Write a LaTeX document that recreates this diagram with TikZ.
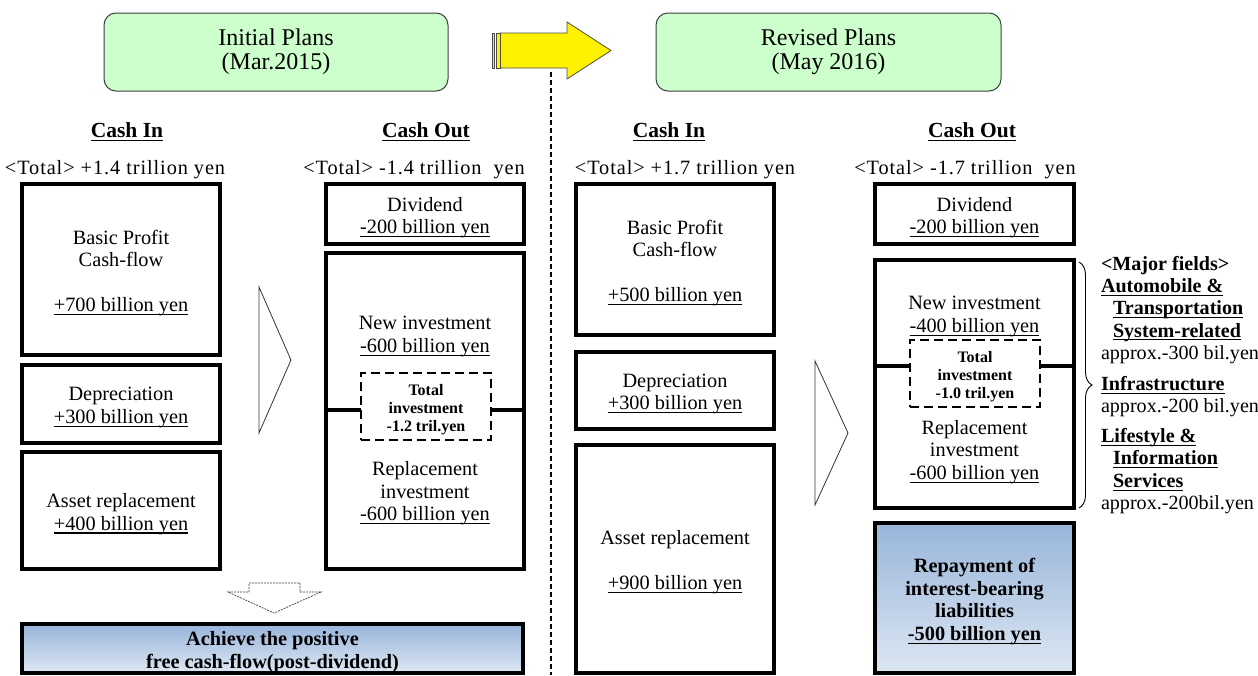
\documentclass[tikz,border=0pt]{standalone}
\usepackage{fontspec}
\setmainfont{Liberation Serif}
\usetikzlibrary{decorations.pathreplacing}
\definecolor{titlegreen}{HTML}{CCFFCC}
\definecolor{blueTop}{HTML}{98B5DA}
\definecolor{blueBot}{HTML}{DDE7F3}
\newcommand{\mfs}{\fontsize{20.3}{22.5}\selectfont}
\newcommand{\hfs}{\fontsize{21.5}{22.5}\selectfont}
\newcommand{\sfs}{\fontsize{16}{18}\selectfont}
\newcommand{\tfs}{\fontsize{24}{24}\selectfont}
\newcommand{\ffs}{\fontsize{20.1}{22.3}\selectfont}
\newcommand{\myul}[1]{\setbox0\hbox{#1}\leavevmode\rlap{\rule[-3.4pt]{\wd0}{1.1pt}}\box0}
\begin{document}
\begin{tikzpicture}[x=1pt,y=-1pt,
  every node/.style={inner sep=0pt, outer sep=0pt},
  box/.style={draw=black, line width=3.2pt, anchor=north west, fill=white},
  dbox/.style={draw=black, line width=2.3pt, dash pattern=on 9pt off 5pt, anchor=north west, fill=white},
  gbox/.style={draw=black, line width=3.2pt, anchor=north west, top color=blueTop, bottom color=blueBot},
  titlebox/.style={draw=black!75, line width=1pt, fill=titlegreen, rounded corners=12pt, anchor=north west, align=center, font=\tfs},
  head/.style={font=\hfs\bfseries, yshift=-2pt},
  txt/.style={font=\mfs, align=center, yshift=-3.5pt},
  btxt/.style={font=\mfs\bfseries, align=center, yshift=-3.5pt},
  stxt/.style={font=\sfs\bfseries, align=center, yshift=-3pt},
  tottxt/.style={font=\mfs\addfontfeature{LetterSpace=4.5}, yshift=-3pt},
  chev/.style={draw=black!80, line width=0.8pt, line join=miter},
  link/.style={draw=black, line width=3.2pt},
]
\fill[white] (0,0) rectangle (1258,675);
\useasboundingbox (0,0) rectangle (1258,675);

% titles
\node[titlebox, minimum width=344pt, minimum height=78pt] (init) at (104,13) {Initial Plans\\(Mar.2015)};
\node[titlebox, minimum width=345pt, minimum height=78pt] (rev) at (656,13) {Revised Plans\\(May 2016)};

% yellow arrow
\draw[draw=black!70, line width=0.8pt, fill=yellow, line join=miter] (500,33) -- (567,33) -- (567,22) -- (611,50.5) -- (567,79) -- (567,68) -- (500,68) -- cycle;
\draw[draw=black!70, line width=0.8pt, fill=yellow] (492,33) rectangle (494.5,68);
\draw[draw=black!70, line width=0.8pt, fill=yellow] (496,33) rectangle (500,68);

% divider
\coordinate (dtop) at (551,72);
\coordinate (dbot) at (551,675);
\draw[line width=1.1pt, dash pattern=on 5pt off 3pt] (dtop) -- (dbot);

% headers
\node[head] (ci1) at (127,130) {\myul{Cash In}};
\node[head] (co1) at (426,130) {\myul{Cash Out}};
\node[head] (ci2) at (669,130) {\myul{Cash In}};
\node[head] (co2) at (972,130) {\myul{Cash Out}};
\node[tottxt] (t1) at (115,167) {<Total> +1.4 trillion yen};
\node[tottxt] (t2) at (414,167) {<Total> -1.4 trillion\ \ yen};
\node[tottxt] (t3) at (685,167) {<Total> +1.7 trillion yen};
\node[tottxt] (t4) at (965,167) {<Total> -1.7 trillion\ \ yen};

% left cash in
\node[box, minimum width=198pt, minimum height=171pt] (bp1) at (22,184) {};
\node[txt] (bp1t) at (bp1.center) {Basic Profit\\Cash-flow\\[22.5pt]\myul{+700 billion yen}};
\node[box, minimum width=198pt, minimum height=78pt] (dep1) at (22,365) {};
\node[txt] (dep1t) at (dep1.center) {Depreciation\\\myul{+300 billion yen}};
\node[box, minimum width=198pt, minimum height=117pt] (ast1) at (22,452) {};
\node[txt] (ast1t) at (ast1.center) {Asset replacement\\\myul{+400 billion yen}};

% left cash out
\node[box, minimum width=198pt, minimum height=60pt] (div1) at (326,184) {};
\node[txt] (div1t) at (div1.center) {Dividend\\\myul{-200 billion yen}};
\node[box, minimum width=198pt, minimum height=316pt] (inv1) at (326,253) {};
\node[txt] (ni1) at (425,333) {New investment\\\myul{-600 billion yen}};
\node[txt] (ri1) at (425,490) {Replacement\\investment\\\myul{-600 billion yen}};
\node[dbox, minimum width=130pt, minimum height=67pt] (tot1) at (361,373) {};
\node[stxt] (tot1t) at (tot1.center) {Total\\investment\\-1.2 tril.yen};
\draw[link] (inv1.west |- 0,410) -- (tot1.west |- 0,410);
\draw[link] (tot1.east |- 0,410) -- (inv1.east |- 0,410);

% chevrons
\draw[chev] (259,287) -- (291,360) -- (259,433) -- cycle;
\draw[chev] (815,361) -- (848,433) -- (815,505) -- cycle;

% down arrow
\draw[draw=black!75, line width=0.7pt, dash pattern=on 2pt off 1pt, fill=white, line join=miter] (249,583) -- (300,583) -- (300,592) -- (321,592) -- (274,613) -- (228,592) -- (249,592) -- cycle;

% achieve
\node[gbox, minimum width=501pt, minimum height=49pt] (ach) at (22,624) {};
\node[btxt] (acht) at (ach.center) {Achieve the positive\\free cash-flow(post-dividend)};

% right cash in
\node[box, minimum width=198pt, minimum height=151pt] (bp2) at (576,184) {};
\node[txt] (bp2t) at (bp2.center) {Basic Profit\\Cash-flow\\[22.5pt]\myul{+500 billion yen}};
\node[box, minimum width=198pt, minimum height=77pt] (dep2) at (576,352) {};
\node[txt] (dep2t) at (dep2.center) {Depreciation\\\myul{+300 billion yen}};
\node[box, minimum width=198pt, minimum height=228pt] (ast2) at (576,445) {};
\node[txt] (ast2t) at (ast2.center) {Asset replacement\\[22.5pt]\myul{+900 billion yen}};

% right cash out
\node[box, minimum width=199pt, minimum height=60pt] (div2) at (875,184) {};
\node[txt] (div2t) at (div2.center) {Dividend\\\myul{-200 billion yen}};
\node[box, minimum width=199pt, minimum height=248pt] (inv2) at (875,260) {};
\node[txt] (ni2) at (974.5,313) {New investment\\\myul{-400 billion yen}};
\node[txt] (ri2) at (974.5,448.5) {Replacement\\investment\\\myul{-600 billion yen}};
\node[dbox, minimum width=130pt, minimum height=67pt] (tot2) at (910,340) {};
\node[stxt] (tot2t) at (tot2.center) {Total\\investment\\-1.0 tril.yen};
\draw[link] (inv2.west |- 0,366) -- (tot2.west |- 0,366);
\draw[link] (tot2.east |- 0,366) -- (inv2.east |- 0,366);

\node[gbox, minimum width=199pt, minimum height=150pt] (rep) at (875,523) {};
\node[btxt] (rept) at (rep.center) {Repayment of\\interest-bearing\\liabilities\\\myul{-500 billion yen}};

% brace
\coordinate (bra) at (1079,262);
\coordinate (brb) at (1079,508);
\draw[decorate, decoration={brace, amplitude=13pt}, line width=0.9pt] (bra) -- (brb);

% major fields
\node[anchor=north west, align=left, font=\ffs] (mf) at (1101,256) {%
\textbf{<Major fields>}\\
\textbf{\myul{Automobile \&}}\\
\hspace*{12pt}\textbf{\myul{Transportation}}\\
\hspace*{12pt}\textbf{\myul{System-related}}\\
approx.-300 bil.yen\\[8.7pt]
\textbf{\myul{Infrastructure}}\\
approx.-200 bil.yen\\[7.7pt]
\textbf{\myul{Lifestyle \&}}\\
\hspace*{12pt}\textbf{\myul{Information}}\\
\hspace*{12pt}\textbf{\myul{Services}}\\
approx.-200bil.yen};
\end{tikzpicture}
\end{document}
